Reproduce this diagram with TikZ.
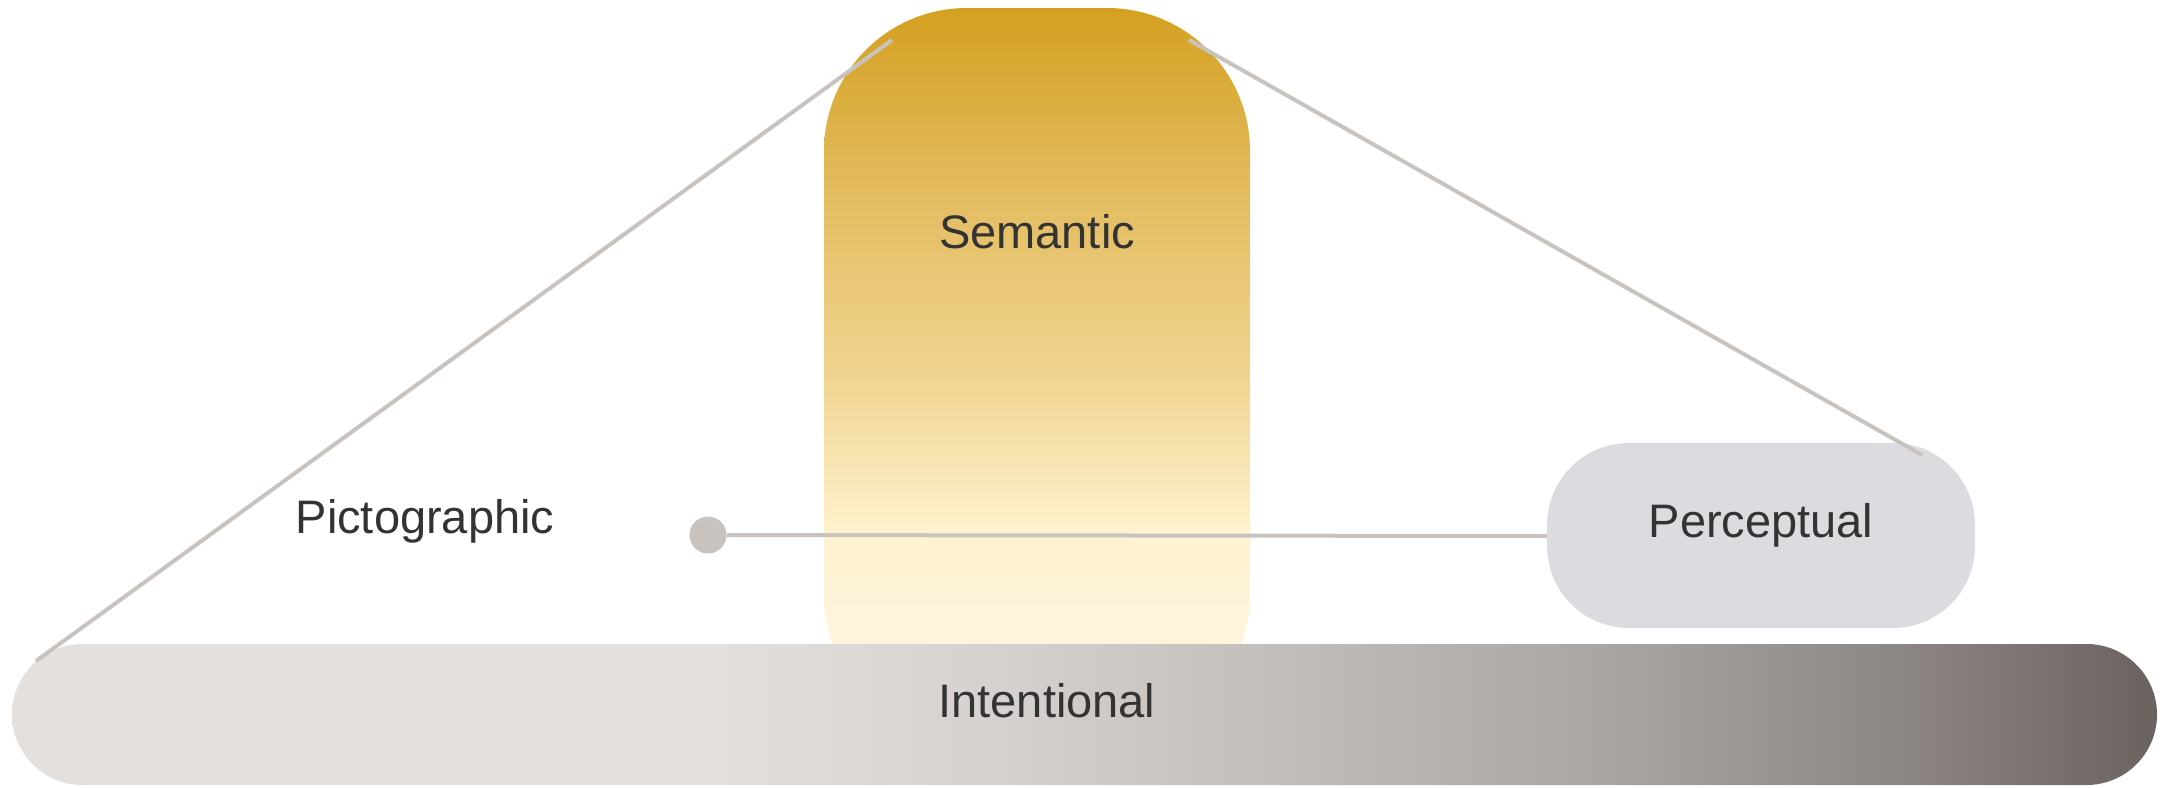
\documentclass[tikz,border=0pt]{standalone}
\usepackage{fontspec}
\setmainfont{Liberation Sans}
\definecolor{sA}{HTML}{D4A020}
\definecolor{sB}{HTML}{E3BC5F}
\definecolor{sC}{HTML}{F0D38F}
\definecolor{sD}{HTML}{FFF2CF}
\definecolor{sE}{HTML}{FEF4DC}
\definecolor{sF}{HTML}{FEF7E8}
\definecolor{bA}{HTML}{E4E0DD}
\definecolor{bB}{HTML}{D6D1CE}
\definecolor{bC}{HTML}{C2BCB8}
\definecolor{bD}{HTML}{ABA6A2}
\definecolor{bE}{HTML}{8D8783}
\definecolor{bF}{HTML}{7A716E}
\definecolor{bG}{HTML}{6A625F}
\definecolor{linegray}{HTML}{C8C3BE}
\definecolor{percfill}{HTML}{DCDCE0}
\definecolor{txt}{HTML}{333333}
\pgfdeclareverticalshading{semgrad}{100bp}{color(0bp)=(sF); color(25bp)=(sF); color(32.5bp)=(sE); color(39bp)=(sD); color(50bp)=(sC); color(62.5bp)=(sB); color(75bp)=(sA); color(100bp)=(sA)}
\pgfdeclarehorizontalshading{bargrad}{100bp}{color(0bp)=(bA); color(25bp)=(bA); color(41bp)=(bA); color(48bp)=(bB); color(55bp)=(bC); color(62bp)=(bD); color(69bp)=(bE); color(72.5bp)=(bF); color(75bp)=(bG); color(100bp)=(bG)}
\tikzset{
  label text/.style={text=txt, font=\fontsize{23.5}{28}\selectfont, inner sep=0pt},
  connector/.style={draw=linegray, line width=2pt},
}
\begin{document}
\begin{tikzpicture}[x=0.5pt,y=-0.5pt]
\useasboundingbox (0,0) rectangle (2172,787);
% semantic column
\path[shading=semgrad, rounded corners=71.5pt] (824,8) rectangle (1250,738);
% intentional bar
\path[shading=bargrad, rounded corners=35.25pt] (12,644) rectangle (2157,785);
% perceptual box
\path[fill=percfill, rounded corners=41pt] (1547,443) rectangle (1975,628);
% named anchors
\coordinate (lb) at (36,661);
\coordinate (lt) at (892,40);
\coordinate (rt) at (1189,40);
\coordinate (rb) at (1922,455);
\coordinate (pl) at (1547,536);
\node[circle, fill=linegray, minimum size=18.5pt, inner sep=0pt] (dot) at (708,535) {};
% connectors
\draw[connector] (dot.east) -- (pl);
\draw[connector] (lb) -- (lt);
\draw[connector] (rt) -- (rb);
% labels
\node[label text, anchor=base] (sem) at (1037,248) {Semantic};
\node[label text, anchor=base] (pict) at (425,533) {Pictographic};
\node[label text, anchor=base] (perc) at (1761,537) {Perceptual};
\node[label text, anchor=base] (intl) at (1047,717) {Intentional};
\end{tikzpicture}
\end{document}
